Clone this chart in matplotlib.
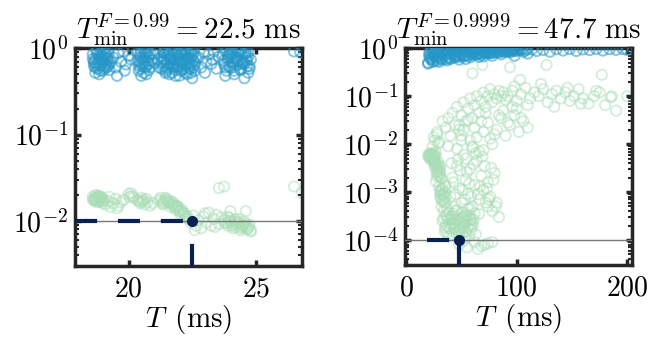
import matplotlib
matplotlib.use("Agg")
import matplotlib.pyplot as plt
from matplotlib.ticker import FuncFormatter, LogLocator, NullFormatter
import numpy as np

plt.rcParams['mathtext.fontset'] = 'cm'
plt.rcParams['font.family'] = ['DejaVu Serif']
plt.rcParams['axes.unicode_minus'] = False

BLUE = '#2596c8'
GREEN = '#a8ddb5'
NAVY = '#0a1f52'

# ---------------- left panel (F = 0.99) ----------------
left_blue_T = [18.6, 18.65, 18.7, 18.7, 18.75, 18.8, 18.8, 18.85, 18.9, 18.9, 18.95, 19.0, 19.0, 19.05, 19.1, 19.1, 19.15, 19.2, 19.2, 19.25, 19.3, 18.65, 18.75, 18.85, 18.95, 19.05, 19.15, 19.25,
               19.4, 19.5, 19.6, 19.7, 19.8, 19.9, 20.0, 20.1, 19.55, 19.85,
               20.35, 20.4, 20.45, 20.5, 20.5, 20.55, 20.6, 20.6, 20.65, 20.7, 20.7, 20.75, 20.8, 20.85, 20.9, 20.4, 20.5, 20.6, 20.7, 20.8, 20.45, 20.65,
               21.0, 21.05, 21.1, 21.15, 21.2,
               21.3, 21.35, 21.4, 21.45, 21.5, 21.55, 21.6, 21.65, 21.7, 21.75, 21.8, 21.85, 21.9, 21.95, 22.0, 22.05, 22.1, 22.15, 22.2, 22.25, 22.3, 22.35, 22.4, 22.45, 22.5, 22.55, 22.6, 22.65,
               21.3, 21.4, 21.5, 21.6, 21.7, 21.8, 21.9, 22.0, 22.1, 22.2, 22.3, 22.4, 22.5, 22.6,
               21.35, 21.45, 21.55, 21.65, 21.75, 21.85, 21.95, 22.05, 22.15, 22.25, 22.35, 22.45, 22.55,
               22.75, 22.85, 22.95, 23.05, 23.15, 23.25, 23.35, 23.45, 23.55, 23.0, 23.3,
               23.7, 23.75, 23.8, 23.85, 23.9, 23.95, 24.0, 24.05, 24.1, 24.15, 24.2, 24.25, 24.3, 24.35, 24.4, 24.45, 24.5, 24.55, 24.6, 24.65, 24.7, 24.75, 24.8, 23.8, 23.95, 24.1, 24.25, 24.4, 24.55, 24.7,
               26.5, 26.75,
               18.6, 18.7, 18.8, 18.9, 19.0, 19.1, 19.2, 18.65, 18.75, 18.85, 18.95, 19.05, 19.15,
               20.35, 20.45, 20.55, 20.65, 20.75, 20.85, 20.4, 20.6, 20.8,
               21.3, 21.4, 21.5, 21.6, 21.7, 21.8, 21.9, 22.0, 22.1, 22.2, 22.3, 22.4, 22.5, 22.6,
               21.35, 21.45, 21.55, 21.65, 21.75, 21.85, 21.95, 22.05, 22.15, 22.25, 22.35, 22.45, 22.55,
               23.75, 23.85, 23.95, 24.05, 24.15, 24.25, 24.35, 24.45, 24.55, 24.65, 24.75,
               23.8, 23.9, 24.0, 24.1, 24.2, 24.3, 24.4, 24.5, 24.6, 24.7]
left_blue_err = [0.85, 0.62, 0.75, 0.52, 0.92, 0.68, 0.58, 0.8, 0.88, 0.64, 0.72, 0.55, 0.95, 0.78, 0.66, 0.86, 0.6, 0.74, 0.9, 0.56, 0.7, 0.7, 0.64, 0.5, 0.82, 0.62, 0.8, 0.66,
                 0.78, 0.6, 0.88, 0.7, 0.92, 0.65, 0.82, 0.74, 0.48, 0.55,
                 0.88, 0.7, 0.58, 0.92, 0.66, 0.8, 0.52, 0.75, 0.9, 0.62, 0.84, 0.7, 0.56, 0.86, 0.72, 0.64, 0.48, 0.95, 0.5, 0.66, 0.78, 0.6,
                 0.85, 0.68, 0.92, 0.74, 0.6,
                 0.8, 0.62, 0.9, 0.55, 0.72, 0.85, 0.5, 0.68, 0.93, 0.6, 0.78, 0.48, 0.88, 0.65, 0.75, 0.55, 0.92, 0.7, 0.82, 0.52, 0.66, 0.87, 0.58, 0.76, 0.45, 0.9, 0.64, 0.8,
                 0.58, 0.75, 0.66, 0.82, 0.52, 0.9, 0.62, 0.48, 0.7, 0.95, 0.5, 0.68, 0.82, 0.55,
                 0.7, 0.95, 0.6, 0.78, 0.66, 0.56, 0.8, 0.88, 0.58, 0.74, 0.6, 0.52, 0.72,
                 0.78, 0.6, 0.9, 0.7, 0.85, 0.66, 0.92, 0.58, 0.8, 0.52, 0.74,
                 0.85, 0.66, 0.92, 0.55, 0.75, 0.88, 0.6, 0.7, 0.95, 0.5, 0.8, 0.64, 0.9, 0.72, 0.56, 0.84, 0.68, 0.45, 0.78, 0.62, 0.9, 0.58, 0.74, 0.48, 0.82, 0.6, 0.7, 0.92, 0.66, 0.52,
                 0.92, 0.9,
                 0.75, 0.6, 0.85, 0.55, 0.7, 0.9, 0.62, 0.68, 0.95, 0.72, 0.8, 0.58, 0.76,
                 0.72, 0.85, 0.62, 0.78, 0.92, 0.6, 0.55, 0.68, 0.8,
                 0.68, 0.88, 0.58, 0.95, 0.74, 0.62, 0.85, 0.7, 0.56, 0.9, 0.78, 0.62, 0.95, 0.68,
                 0.9, 0.52, 0.84, 0.62, 0.95, 0.72, 0.6, 0.85, 0.66, 0.92, 0.78, 0.88, 0.6,
                 0.72, 0.95, 0.62, 0.85, 0.55, 0.78, 0.9, 0.66, 0.85, 0.72, 0.62,
                 0.6, 0.8, 0.9, 0.68, 0.75, 0.95, 0.58, 0.7, 0.88, 0.8]

left_green_T = [18.6, 18.65, 18.7, 18.75, 18.8, 18.85, 18.9, 18.95, 19.0, 19.05, 18.7, 18.8, 18.9,
                19.1, 19.2, 19.3, 19.4, 19.5, 19.6, 19.7, 19.8, 19.25, 19.55,
                20.0, 20.05, 20.1, 20.15, 20.2,
                20.35, 20.45, 20.55, 20.65, 20.75, 20.85, 20.95, 20.5, 20.7,
                21.2, 21.3, 21.4, 21.5, 21.6, 21.7, 21.8, 21.9, 22.0, 22.1, 22.2, 22.3, 21.35, 21.55, 21.75, 21.95, 22.15, 21.45, 21.65, 21.85, 22.05, 22.25,
                22.35, 22.45, 22.55, 22.65, 22.75, 22.85, 22.95, 23.05, 23.15, 23.25, 23.35, 23.45, 23.55, 23.65, 22.6, 23.0, 23.4,
                23.75, 23.85, 23.95, 24.05, 24.15, 24.25, 24.35, 24.45, 24.55, 24.65, 24.75, 24.8, 23.9, 24.1, 24.3, 24.5, 24.7, 24.0, 24.2, 24.4, 24.6,
                23.55, 23.75, 26.5, 26.8, 24.0, 24.6,
                18.6, 18.7, 18.8, 18.9, 19.0, 18.65, 18.75, 18.85, 18.95,
                21.25, 21.35, 21.45, 21.55, 21.65, 21.75, 21.85, 21.95, 22.05, 22.15, 22.25,
                23.8, 23.9, 24.0, 24.1, 24.2, 24.3, 24.4, 24.5, 24.6, 24.7, 24.8,
                20.4, 20.5, 20.6]
left_green_err = [0.019, 0.0175, 0.02, 0.0185, 0.017, 0.019, 0.0165, 0.018, 0.016, 0.0175, 0.017, 0.0195, 0.0185,
                  0.0155, 0.017, 0.0145, 0.016, 0.018, 0.015, 0.0165, 0.0175, 0.019, 0.014,
                  0.0205, 0.019, 0.021, 0.0195, 0.0185,
                  0.0175, 0.016, 0.017, 0.0155, 0.0165, 0.015, 0.016, 0.0185, 0.018,
                  0.0175, 0.017, 0.0165, 0.018, 0.016, 0.0155, 0.0145, 0.015, 0.013, 0.0135, 0.012, 0.0115, 0.0155, 0.017, 0.0165, 0.014, 0.0125, 0.0185, 0.0145, 0.0135, 0.0118, 0.0108,
                  0.0105, 0.0095, 0.0115, 0.0088, 0.0102, 0.0082, 0.0112, 0.0095, 0.0125, 0.0088, 0.0105, 0.0118, 0.0092, 0.011, 0.0078, 0.0122, 0.0085,
                  0.0102, 0.0095, 0.0108, 0.0088, 0.01, 0.0092, 0.0105, 0.0085, 0.0098, 0.008, 0.009, 0.0078, 0.0112, 0.0082, 0.0095, 0.0088, 0.0085, 0.0098, 0.0105, 0.0078, 0.0092,
                  0.024, 0.025, 0.025, 0.021, 0.013, 0.013,
                  0.0175, 0.0185, 0.0195, 0.0175, 0.017, 0.018, 0.0165, 0.0175, 0.019,
                  0.0185, 0.016, 0.0175, 0.0165, 0.017, 0.0155, 0.015, 0.0145, 0.0128, 0.0125, 0.011,
                  0.0095, 0.0088, 0.01, 0.0092, 0.0085, 0.0098, 0.0082, 0.009, 0.0086, 0.0082, 0.0075,
                  0.017, 0.0165, 0.0175]

# ---------------- right panel (F = 0.9999) ----------------
right_blue_T = [20, 21, 22, 23, 24, 25, 26, 27, 28, 29, 30, 22, 25, 28, 30,
                32, 34, 36, 38, 40, 42, 44, 46, 48, 50, 33, 37, 41, 45, 49,
                52, 55, 58, 61, 64, 67, 70, 73, 76, 79, 54, 60, 66, 72, 78,
                82, 86, 90, 94, 98, 102, 106, 110, 114, 118,
                124, 130, 136, 142, 148, 154, 160, 166, 172, 178, 184, 190, 196, 200,
                20, 22, 24, 26, 28, 30, 32, 34, 36, 38, 40, 42, 44, 46, 48, 50, 52, 54, 56, 58, 60,
                62, 64, 66, 68, 70, 72, 74, 76, 78, 80, 82, 84, 86, 88, 90, 92, 94, 96, 98, 100, 104, 108,
                21, 23, 25, 27, 29, 31, 33, 35, 37, 39, 41, 43, 45, 47, 49, 51, 53, 55, 57, 59, 61,
                63, 65, 67, 69, 71, 73, 75, 77, 79, 81, 83, 85, 87, 89, 91, 93, 95, 97, 99, 101, 105, 109]
right_blue_err = [0.5, 0.7, 0.85, 0.6, 0.95, 0.55, 0.75, 0.9, 0.65, 0.8, 0.52, 0.65, 0.8, 0.92, 0.7,
                  0.62, 0.88, 0.72, 0.95, 0.6, 0.82, 0.68, 0.92, 0.58, 0.78, 0.8, 0.56, 0.9, 0.74, 0.88,
                  0.7, 0.92, 0.65, 0.85, 0.75, 0.95, 0.68, 0.88, 0.78, 0.93, 0.6, 0.8, 0.66, 0.82, 0.7,
                  0.9, 0.75, 0.95, 0.82, 0.7, 0.92, 0.85, 0.78, 0.95, 0.88,
                  0.93, 0.85, 0.96, 0.9, 0.97, 0.88, 0.95, 0.92, 0.97, 0.9, 0.96, 0.93, 0.97, 0.92,
                  0.48, 0.6, 0.52, 0.66, 0.55, 0.62, 0.58, 0.7, 0.6, 0.66, 0.62, 0.72, 0.64, 0.7, 0.66, 0.74, 0.68, 0.72, 0.7, 0.78, 0.72,
                  0.76, 0.74, 0.8, 0.75, 0.82, 0.78, 0.8, 0.8, 0.85, 0.8, 0.84, 0.82, 0.88, 0.84, 0.86, 0.86, 0.9, 0.88, 0.9, 0.88, 0.92, 0.9,
                  0.8, 0.92, 0.75, 0.88, 0.96, 0.78, 0.9, 0.85, 0.97, 0.8, 0.92, 0.88, 0.98, 0.84, 0.93, 0.9, 0.97, 0.86, 0.95, 0.92, 0.98,
                  0.9, 0.96, 0.94, 0.98, 0.92, 0.97, 0.95, 0.99, 0.93, 0.98, 0.96, 0.99, 0.95, 0.98, 0.97, 0.99, 0.96, 0.98, 0.97, 0.99, 0.98, 0.97]

right_green_T = [20, 21, 22, 23, 24, 25, 26, 21, 23, 25, 27, 24, 26, 28, 29,
                 25, 26, 27, 28, 29, 30, 31, 32, 27, 29, 31, 26, 28, 30,
                 30, 31, 32, 33, 34, 35, 36, 32, 34, 36, 31, 33, 35, 37,
                 33, 35, 37, 39, 41, 43, 45, 47, 49, 51, 53, 55, 57, 59, 61, 63,
                 34, 38, 42, 46, 50, 54, 58, 62,
                 36, 40, 44, 48, 52, 56, 60,
                 35, 39, 43, 47, 51, 55, 59, 45,
                 48, 55, 62, 68, 74, 78, 52, 65, 71,
                 40, 42, 44, 46, 48, 50, 52, 54, 56, 58, 60, 62, 64, 66, 68, 70, 72, 74, 76, 78, 80, 82, 84,
                 41, 45, 49, 53, 57, 61, 65, 69, 73, 77, 81,
                 43, 47, 51, 55, 59, 63, 67, 71, 75, 79,
                 38, 50, 60, 70, 58, 66, 74,
                 25, 28, 30, 33, 36, 38, 40, 42, 44, 46, 48, 50, 52, 54, 56, 58, 60, 62, 64, 66, 68, 70, 72, 74, 76, 78, 80, 82, 84, 86, 88, 90,
                 46, 50, 54, 58, 62, 66, 70, 74, 78, 82, 86, 90, 94, 98, 102, 106, 110,
                 48, 56, 64, 72, 80, 88, 96, 104,
                 52, 60, 68, 76, 84, 92, 100,
                 92, 96, 100, 104, 108, 112, 116, 120, 124, 128, 132, 136, 140, 144, 148, 152, 156, 160, 165, 170, 175, 180, 185, 190, 200,
                 98, 110, 122, 134, 146, 158, 172, 186,
                 94, 127, 177, 69, 60, 103,
                 20.5, 21.5, 22.5, 23.5, 24.5, 25.5, 26.5,
                 25.5, 26.5, 27.5, 28.5, 29.5, 30.5, 31.5,
                 30.5, 31.5, 32.5, 33.5, 34.5, 35.5,
                 34, 36, 38, 40, 42, 44, 46, 48, 50, 52, 54, 56, 58, 60,
                 37, 41, 45, 49, 53, 57]
right_green_err = [0.006, 0.005, 0.0065, 0.0048, 0.0058, 0.0052, 0.006, 0.0055, 0.0062, 0.0045, 0.0068, 0.009, 0.012, 0.016, 0.0105,
                   0.0045, 0.0038, 0.0032, 0.0027, 0.0042, 0.0022, 0.0035, 0.0019, 0.0017, 0.003, 0.0025, 0.004, 0.0021, 0.0033,
                   0.0013, 0.0011, 0.0009, 0.0012, 0.0007, 0.001, 0.0006, 0.0005, 0.00085, 0.0013, 0.0008, 0.00065, 0.0014, 0.00045,
                   0.00025, 0.00015, 0.0003, 0.00012, 0.00022, 0.00035, 0.00014, 0.00028, 0.00018, 0.00038, 0.00011, 0.00024, 0.00032, 0.00016, 0.00027, 0.00013,
                   0.0004, 0.00019, 0.00013, 0.00042, 0.00023, 0.00015, 0.00021, 0.00036,
                   0.00033, 0.00026, 0.00017, 0.00012, 0.0003, 0.00045, 0.00019,
                   0.00018, 0.00036, 0.00022, 0.00016, 0.00014, 0.00031, 0.00026, 0.0002,
                   0.00008, 0.00007, 0.00009, 0.000075, 0.000085, 0.00009, 0.000095, 0.000065, 0.00008,
                   0.0008, 0.002, 0.0005, 0.0035, 0.0012, 0.0006, 0.006, 0.0018, 0.0009, 0.003, 0.0005, 0.0014, 0.0045, 0.0007, 0.0022, 0.0011, 0.0006, 0.0016, 0.0008, 0.0004, 0.0025, 0.0006, 0.0003,
                   0.004, 0.0009, 0.0028, 0.0007, 0.0015, 0.0038, 0.0009, 0.0055, 0.0012, 0.0032, 0.0005,
                   0.0016, 0.0048, 0.0011, 0.0026, 0.0008, 0.0065, 0.0013, 0.0035, 0.0007, 0.0018,
                   0.009, 0.012, 0.0085, 0.0075, 0.00045, 0.00035, 0.0005,
                   0.014, 0.018, 0.011, 0.03, 0.022, 0.035, 0.015, 0.045, 0.025, 0.06, 0.02, 0.04, 0.075, 0.03, 0.055, 0.09, 0.035, 0.065, 0.1, 0.045, 0.08, 0.12, 0.06, 0.1, 0.14, 0.075, 0.11, 0.09, 0.13, 0.1, 0.12, 0.085,
                   0.008, 0.015, 0.005, 0.012, 0.022, 0.007, 0.018, 0.028, 0.01, 0.02, 0.035, 0.015, 0.025, 0.04, 0.018, 0.03, 0.022,
                   0.025, 0.032, 0.014, 0.045, 0.016, 0.05, 0.06, 0.035,
                   0.02, 0.009, 0.03, 0.013, 0.04, 0.028, 0.055,
                   0.1, 0.13, 0.08, 0.11, 0.15, 0.09, 0.12, 0.1, 0.14, 0.075, 0.11, 0.13, 0.09, 0.12, 0.08, 0.1, 0.14, 0.09, 0.07, 0.1, 0.12, 0.065, 0.095, 0.05, 0.1,
                   0.16, 0.065, 0.18, 0.06, 0.15, 0.07, 0.13, 0.1,
                   0.4, 0.45, 0.28, 0.45, 0.3, 0.22,
                   0.0055, 0.0062, 0.0052, 0.0058, 0.0048, 0.0062, 0.0055,
                   0.0035, 0.0042, 0.0025, 0.0036, 0.0023, 0.0028, 0.002,
                   0.001, 0.0007, 0.0011, 0.0009, 0.0006, 0.0008,
                   0.00028, 0.0002, 0.00026, 0.00017, 0.00031, 0.00022, 0.00025, 0.00016, 0.00029, 0.0002, 0.00034, 0.00018, 0.00027, 0.00022,
                   0.00014, 0.00028, 0.0004, 0.00021, 0.00026, 0.00012]

# thresholds and results
targets = [1e-2, 1e-4]
tmin = [22.5, 47.7]
h_start = [17.9, 19.0]
titles = [r'$T_{\min}^{F=0.99} = 22.5\ \mathrm{ms}$', r'$T_{\min}^{F=0.9999} = 47.7\ \mathrm{ms}$']
xlims = [(17.9, 26.8), (-1, 204)]
ylims = [(3e-3, 1.0), (3e-5, 1.0)]
xticks = [[20, 25], [0, 100, 200]]

fig = plt.figure(figsize=(6.49, 3.44), dpi=100)
axes = [fig.add_axes([0.1156, 0.2267, 0.3493, 0.633]),
        fig.add_axes([0.624, 0.2296, 0.3493, 0.630])]

data = [(left_green_T, left_green_err, left_blue_T, left_blue_err),
        (right_green_T, right_green_err, right_blue_T, right_blue_err)]

for i, ax in enumerate(axes):
    gT, gE, bT, bE = data[i]
    ax.set_yscale('log')
    ax.set_xlim(*xlims[i])
    ax.set_ylim(*ylims[i])
    ax.scatter(gT, gE, s=55, facecolors='none', edgecolors=GREEN, linewidths=1.3, alpha=0.5, zorder=2)
    ax.scatter(bT, bE, s=55, facecolors='none', edgecolors=BLUE, linewidths=1.4, alpha=0.55, zorder=3)
    ax.axhline(targets[i], color='#777777', lw=1.0, zorder=4)
    ax.plot([h_start[i], tmin[i]], [targets[i], targets[i]], color=NAVY, lw=3, dashes=(5.3, 5.0), zorder=5, dash_capstyle='butt')
    ax.plot([tmin[i], tmin[i]], [ylims[i][0], targets[i]], color=NAVY, lw=3, dashes=(5.3, 5.0), zorder=5, dash_capstyle='butt')
    ax.plot([tmin[i]], [targets[i]], 'o', color=NAVY, ms=7, zorder=6)
    ax.set_xticks(xticks[i])
    ax.xaxis.set_major_formatter(FuncFormatter(lambda v, p: r'$%d$' % v))
    ax.yaxis.set_major_locator(LogLocator(base=10, numticks=10))
    ax.yaxis.set_major_formatter(FuncFormatter(lambda v, p: r'$10^{%d}$' % int(round(np.log10(v)))))
    ax.yaxis.set_minor_locator(LogLocator(base=10, subs=np.arange(2, 10), numticks=20))
    ax.yaxis.set_minor_formatter(NullFormatter())
    for sp in ax.spines.values():
        sp.set_linewidth(2.5)
        sp.set_color('#262626')
    ax.tick_params(which='major', direction='in', length=4, width=2.5, color='#262626',
                   labelsize=20, top=True, right=True, pad=5)
    ax.tick_params(axis='x', which='major', pad=7)
    ax.tick_params(which='minor', direction='in', length=3, width=1.5, color='#262626', top=True, right=True)
    ax.set_xlabel(r'$T\ \,(\mathrm{ms})$', fontsize=21, labelpad=0)
    ax.set_title(titles[i], fontsize=21, pad=2)

fig.savefig('out.png', dpi=100)
